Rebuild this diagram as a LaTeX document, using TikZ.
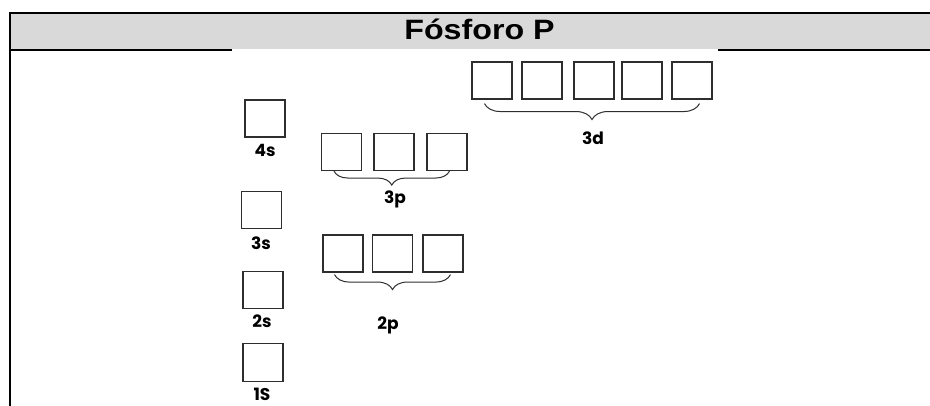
\documentclass[tikz,border=0pt]{standalone}
\usepackage{fontspec}
\setmainfont{Liberation Sans}
\newfontfamily\orbfont{Poppins}
\usetikzlibrary{decorations.pathreplacing}
\definecolor{headgray}{HTML}{D9D9D9}
\definecolor{boxline}{HTML}{2E2E2E}
\tikzset{
  orb/.style={draw=boxline, line width=1.1pt, minimum width=40pt, minimum height=37pt, inner sep=0pt},
  orblabel/.style={font=\orbfont\bfseries\fontsize{17}{17}\selectfont, anchor=base, inner sep=0pt},
  brc/.style={draw=boxline, line width=1pt, decorate, decoration={brace, mirror, amplitude=#1}},
  rule/.style={line width=2pt, black},
}
\begin{document}
\begin{tikzpicture}[x=1pt, y=-1pt]
\useasboundingbox (0,0) rectangle (930,406);
% header band of the table
\fill[headgray] (10,13.5) rectangle (930,49.5);
\draw[rule] (9,12.7) -- (930,12.7);
\draw[rule, line width=2.4pt] (9,50) -- (232,50);
\draw[rule, line width=2.4pt] (718,50) -- (930,50);
\draw[rule] (10,12) -- (10,406);
\node[font=\bfseries\fontsize{28}{28}\selectfont, anchor=base, inner sep=0pt] (title) at (479.5,40)
  {\scalebox{1.15}[1]{Fósforo P}};

% s orbitals
\node[orb] (s4) at (265,118.5) {};
\node[orb] (s3) at (261.5,210) {};
\node[orb] (s2) at (263,290) {};
\node[orb, minimum height=38pt] (s1) at (263,362.5) {};
\node[orblabel] (l4s) at (265,157) {4s};
\node[orblabel] (l3s) at (261,250) {3s};
\node[orblabel] (l2s) at (262,328) {2s};
\node[orblabel] (l1s) at (262,400.5) {1S};

% 3p orbitals
\node[orb] (p31) at (341.5,152) {};
\node[orb] (p32) at (394,152) {};
\node[orb] (p33) at (447,152) {};
\coordinate (b3pa) at ([xshift=13pt]p31.south west);
\coordinate (b3pb) at ([xshift=-18pt]p33.south east);
\draw[brc=14pt] (b3pa) -- (b3pb);
\node[orblabel] (l3p) at (395,204) {3p};

% 2p orbitals
\node[orb] (p21) at (343,253.5) {};
\node[orb] (p22) at (392.5,253.5) {};
\node[orb] (p23) at (443,253.5) {};
\coordinate (b2pa) at ([xshift=12pt,yshift=-2pt]p21.south west);
\coordinate (b2pb) at ([xshift=-13pt,yshift=-2pt]p23.south east);
\draw[brc=15pt] (b2pa) -- (b2pb);
\node[orblabel] (l2p) at (388,330) {2p};

% 3d orbitals
\node[orb] (d1) at (492,80.5) {};
\node[orb] (d2) at (542,80.5) {};
\node[orb] (d3) at (594,80.5) {};
\node[orb] (d4) at (642,80.5) {};
\node[orb] (d5) at (692,80.5) {};
\coordinate (b3da) at ([xshift=13pt,yshift=-4pt]d1.south west);
\coordinate (b3db) at ([xshift=-13pt,yshift=-4pt]d5.south east);
\draw[brc=16pt] (b3da) -- (b3db);
\node[orblabel] (l3d) at (593,145) {3d};
\end{tikzpicture}
\end{document}
